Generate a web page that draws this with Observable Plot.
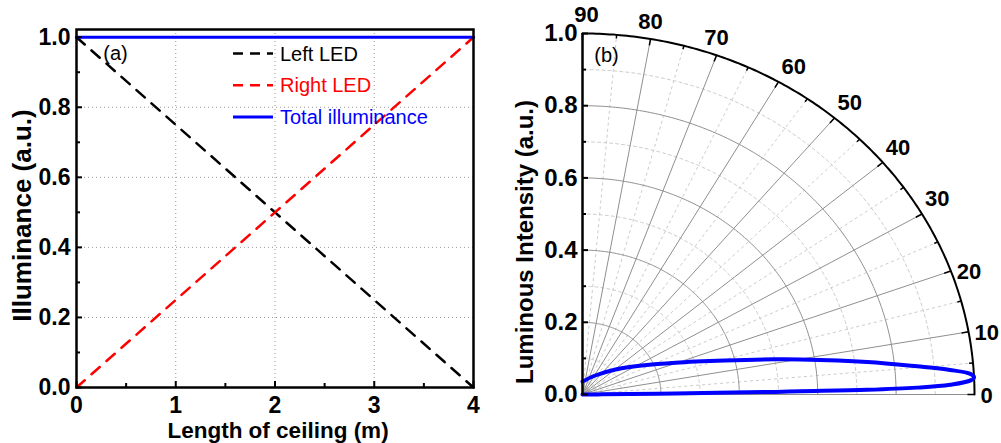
<!DOCTYPE html>
<html>
<head>
<meta charset="utf-8">
<script src="https://cdn.jsdelivr.net/npm/d3@7"></script>
<script src="https://cdn.jsdelivr.net/npm/@observablehq/plot@0.6"></script>
<style>
  html, body { margin: 0; padding: 0; background: #fff; }
  #wrap { position: relative; width: 1001px; height: 443px; overflow: hidden; background: #fff; }
  #panelA { position: absolute; left: 0; top: 0; }
  #panelB { position: absolute; left: 500px; top: 0; }
  svg { overflow: visible; }
</style>
</head>
<body>
<div id="wrap"><div id="panelA"></div><div id="panelB"></div></div>
<script>
const FONT = "'Liberation Sans', Arial, Helvetica, sans-serif";

// ---------- Panel (a) data ----------
const ceilingLength = [0, 1, 2, 3, 4];
const leftLED = [1, 0.75, 0.5, 0.25, 0];
const rightLED = [0, 0.25, 0.5, 0.75, 1];
const totalIlluminance = [1, 1, 1, 1, 1];
const seriesNames = ["Left LED", "Right LED", "Total illuminance"];
const seriesColors = ["#000000", "#ff0000", "#0000ff"];
const xTicksA = [0, 1, 2, 3, 4];
const xMinorA = [0.5, 1.5, 2.5, 3.5];
const yTicksA = [0, 0.2, 0.4, 0.6, 0.8, 1.0];
const yMinorA = [0.1, 0.3, 0.5, 0.7, 0.9];

// ---------- Panel (b) data ----------
const beamAngle = [90, 58.1, 39.4, 27.8, 20.4, 14.5, 11.2, 9.9, 7.07, 5.22, 4.15, 3.3, 2.75, 2.26, 1.65, 1.28, 1.03, 0.93, 0.84, 0.72, 0.4, 0];
const beamIntensity = [0.036, 0.062, 0.109, 0.172, 0.253, 0.376, 0.501, 0.564, 0.732, 0.857, 0.94, 0.991, 1.0, 0.991, 0.938, 0.853, 0.726, 0.556, 0.492, 0.237, 0.05, 0];
const radialTicks = [0, 0.2, 0.4, 0.6, 0.8, 1.0];
const radialMinor = [0.1, 0.3, 0.5, 0.7, 0.9];
const angleTicks = [0, 10, 20, 30, 40, 50, 60, 70, 80, 90];
const angleMinor = [5, 15, 25, 35, 45, 55, 65, 75, 85];

// ---------- Panel (a) ----------
const seriesValues = [leftLED, rightLED, totalIlluminance];
const rowsA = seriesNames.flatMap((name, s) =>
  ceilingLength.map((x, i) => ({series: name, x, y: seriesValues[s][i]})));

const WA = 500, HA = 443, mLA = 76, mRA = 27, mTA = 29, mBA = 56;
const plotWA = WA - mLA - mRA, plotHA = HA - mTA - mBA;

function legendA() {
  const g = d3.create("svg:g").attr("font-family", FONT).attr("font-size", 20).attr("text-anchor", "start");
  seriesNames.forEach((name, i) => {
    const y = 53.5 + i * 31.7;
    g.append("line")
      .attr("x1", 233).attr("x2", 273).attr("y1", y).attr("y2", y)
      .attr("stroke", seriesColors[i])
      .attr("stroke-width", i === 2 ? 3 : 2.5)
      .attr("stroke-dasharray", i === 2 ? null : "10,7");
    g.append("text").attr("x", 280).attr("y", y).attr("dy", "0.35em")
      .attr("text-anchor", "start")
      .attr("fill", seriesColors[i]).text(name);
  });
  return g.node();
}

const plotA = Plot.plot({
  width: WA, height: HA,
  marginLeft: mLA, marginRight: mRA, marginTop: mTA, marginBottom: mBA,
  style: {fontFamily: FONT, background: "#fff", color: "#000", overflow: "visible"},
  x: {domain: [0, 4]},
  y: {domain: [0, 1.022]},
  marks: [
    Plot.gridX(xTicksA.slice(1, -1), {stroke: "#999", strokeOpacity: 1, strokeDasharray: "1,3"}),
    Plot.gridY(yTicksA.slice(1, -1), {stroke: "#999", strokeOpacity: 1, strokeDasharray: "1,3"}),
    Plot.line(rowsA.filter(d => d.series === "Left LED"), {x: "x", y: "y", stroke: seriesColors[0], strokeWidth: 2.5, strokeDasharray: "11,9"}),
    Plot.line(rowsA.filter(d => d.series === "Right LED"), {x: "x", y: "y", stroke: seriesColors[1], strokeWidth: 2.5, strokeDasharray: "11,9"}),
    Plot.line(rowsA.filter(d => d.series === "Total illuminance"), {x: "x", y: "y", stroke: seriesColors[2], strokeWidth: 3}),
    // inward ticks
    Plot.tickX(xTicksA, {x: d => d, insetTop: plotHA - 6, stroke: "#000", strokeWidth: 2}),
    Plot.tickX(xMinorA, {x: d => d, insetTop: plotHA - 4, stroke: "#000", strokeWidth: 2}),
    Plot.tickY(yTicksA, {y: d => d, insetRight: plotWA - 6, stroke: "#000", strokeWidth: 2}),
    Plot.tickY(yMinorA, {y: d => d, insetRight: plotWA - 4, stroke: "#000", strokeWidth: 2}),
    Plot.frame({stroke: "#000", strokeWidth: 2.5}),
    Plot.axisX({ticks: xTicksA, tickFormat: d3.format("d"), tickSize: 0, tickPadding: 9, fontSize: 23, fontWeight: "bold", label: null}),
    Plot.axisY({ticks: yTicksA, tickFormat: d3.format(".1f"), tickSize: 0, tickPadding: 6, fontSize: 23, fontWeight: "bold", label: null}),
    Plot.text(["Length of ceiling (m)"], {text: d => d, frameAnchor: "bottom", textAnchor: "middle", lineAnchor: "middle", dx: 3, dy: 43, fontSize: 22.5, fontWeight: "bold"}),
    Plot.text(["Illuminance (a.u.)"], {text: d => d, frameAnchor: "left", textAnchor: "middle", lineAnchor: "middle", rotate: -90, dx: -54, dy: 7, fontSize: 26, fontWeight: "bold"}),
    Plot.text(["(a)"], {text: d => d, frameAnchor: "top-left", textAnchor: "middle", lineAnchor: "middle", dx: 39, dy: 24, fontSize: 20}),
    legendA
  ]
});
document.getElementById("panelA").appendChild(plotA);

// ---------- Panel (b) ----------
const rad = a => a * Math.PI / 180;
const arcSteps = d3.range(0, 90.001, 0.5);
const arcRows = radii => radii.flatMap(r => arcSteps.map(a => ({r, a})));
const beamRows = beamAngle.map((a, i) => ({a, r: beamIntensity[i]}));
const px = d => d.r * Math.cos(rad(d.a));
const py = d => d.r * Math.sin(rad(d.a));

const WB = 501, HB = 443, mLB = 82, mRB = 27, mTB = 33, mBB = 49;
const plotWB = WB - mLB - mRB;

const plotB = Plot.plot({
  width: WB, height: HB,
  marginLeft: mLB, marginRight: mRB, marginTop: mTB, marginBottom: mBB,
  style: {fontFamily: FONT, background: "#fff", color: "#000", overflow: "visible"},
  x: {domain: [0, 1], axis: null},
  y: {domain: [0, 1]},
  marks: [
    // dashed minor grid
    Plot.line(arcRows(radialMinor), {x: px, y: py, z: "r", stroke: "#cccccc", strokeWidth: 1, strokeDasharray: "3,3"}),
    Plot.link(angleMinor, {x1: () => 0, y1: () => 0, x2: a => Math.cos(rad(a)), y2: a => Math.sin(rad(a)), stroke: "#cccccc", strokeWidth: 1, strokeDasharray: "3,3"}),
    // solid major grid
    Plot.line(arcRows(radialTicks.slice(1, -1)), {x: px, y: py, z: "r", stroke: "#8f8f8f", strokeWidth: 1}),
    Plot.link(angleTicks.slice(0, -1), {x1: () => 0, y1: () => 0, x2: a => Math.cos(rad(a)), y2: a => Math.sin(rad(a)), stroke: "#8f8f8f", strokeWidth: 1}),
    // outer arc
    Plot.line(arcRows([1]), {x: px, y: py, stroke: "#000", strokeWidth: 2}),
    // arc ticks (inward)
    Plot.link(angleTicks, {x1: a => 0.982 * Math.cos(rad(a)), y1: a => 0.982 * Math.sin(rad(a)), x2: a => Math.cos(rad(a)), y2: a => Math.sin(rad(a)), stroke: "#000", strokeWidth: 1.5}),
    Plot.link(angleMinor, {x1: a => 0.99 * Math.cos(rad(a)), y1: a => 0.99 * Math.sin(rad(a)), x2: a => Math.cos(rad(a)), y2: a => Math.sin(rad(a)), stroke: "#000", strokeWidth: 1.5}),
    // beam pattern
    Plot.line(beamRows, {x: px, y: py, stroke: "#0000ff", strokeWidth: 4, curve: "catmull-rom"}),
    // left axis
    Plot.ruleX([0], {x: d => d, y1: () => 0, y2: () => 1, stroke: "#000", strokeWidth: 2.5}),
    Plot.tickY(radialTicks, {y: d => d, insetRight: plotWB - 6, stroke: "#000", strokeWidth: 2}),
    Plot.tickY(radialMinor, {y: d => d, insetRight: plotWB - 4, stroke: "#000", strokeWidth: 2}),
    Plot.axisY({ticks: radialTicks, tickFormat: d3.format(".1f"), tickSize: 0, tickPadding: 5, fontSize: 24, fontWeight: "bold", label: null}),
    // angle labels
    Plot.text(angleTicks.filter(a => a === 90), {x: a => Math.cos(rad(a)), y: a => Math.sin(rad(a)), text: d => String(d), textAnchor: "middle", lineAnchor: "middle", dx: 4, dy: -19, fontSize: 22, fontWeight: "bold"}),
    Plot.text(angleTicks.filter(a => a >= 70 && a < 90), {x: a => Math.cos(rad(a)), y: a => Math.sin(rad(a)), text: d => String(d), textAnchor: "middle", lineAnchor: "middle", dy: -17, fontSize: 22, fontWeight: "bold"}),
    Plot.text(angleTicks.filter(a => a >= 30 && a <= 60), {x: a => Math.cos(rad(a)), y: a => Math.sin(rad(a)), text: d => String(d), textAnchor: "start", lineAnchor: "middle", dx: 3, dy: -15, fontSize: 22, fontWeight: "bold"}),
    Plot.text(angleTicks.filter(a => a <= 20), {x: a => Math.cos(rad(a)), y: a => Math.sin(rad(a)), text: d => String(d), textAnchor: "start", lineAnchor: "middle", dx: 6, dy: 1, fontSize: 22, fontWeight: "bold"}),
    Plot.text(["Luminous Intensity (a.u.)"], {text: d => d, frameAnchor: "left", textAnchor: "middle", lineAnchor: "middle", rotate: -90, dx: -57, dy: 28, fontSize: 24, fontWeight: "bold"}),
    Plot.text(["(b)"], {text: d => d, frameAnchor: "top-left", textAnchor: "middle", lineAnchor: "middle", dx: 24, dy: 22, fontSize: 20})
  ]
});
document.getElementById("panelB").appendChild(plotB);
</script>
</body>
</html>
